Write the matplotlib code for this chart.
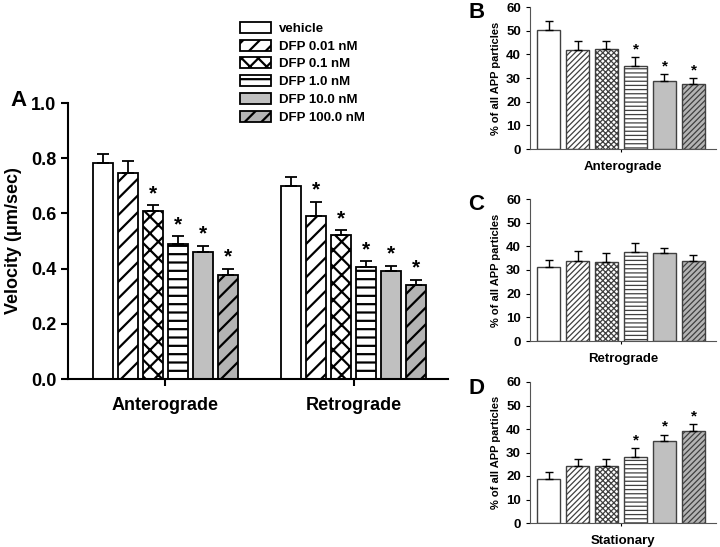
import matplotlib
matplotlib.use('Agg')
import matplotlib.pyplot as plt
import numpy as np

plt.rcParams['font.family'] = ['Liberation Sans', 'DejaVu Sans']
plt.rcParams['font.weight'] = 'bold'

# Data
doses = ['vehicle', 'DFP 0.01 nM', 'DFP 0.1 nM', 'DFP 1.0 nM', 'DFP 10.0 nM', 'DFP 100.0 nM']
groups_a = ['Anterograde', 'Retrograde']
vel_mean = [[0.784, 0.745, 0.610, 0.488, 0.461, 0.378],
            [0.699, 0.590, 0.520, 0.406, 0.393, 0.341]]
vel_err = [[0.030, 0.045, 0.020, 0.030, 0.022, 0.022],
           [0.034, 0.052, 0.020, 0.021, 0.018, 0.019]]
vel_sig = [[False, False, True, True, True, True],
           [False, True, True, True, True, True]]

antero_pct = [50.2, 42.0, 42.4, 35.0, 28.8, 27.4]
antero_err = [4.0, 3.6, 3.3, 4.0, 2.8, 2.4]
antero_sig = [False, False, False, True, True, True]

retro_pct = [31.1, 33.7, 33.4, 37.4, 37.0, 34.0]
retro_err = [3.3, 4.2, 3.6, 4.2, 2.1, 2.4]
retro_sig = [False] * 6

stat_pct = [18.9, 24.4, 24.1, 28.1, 34.8, 39.0]
stat_err = [2.8, 3.0, 3.0, 3.9, 2.8, 3.0]
stat_sig = [False, False, False, True, True, True]

face_cols = ['white', 'white', 'white', 'white', '#c0c0c0', '#b4b4b4']
hatch_a = [None, '//', 'xx', '--', None, '//']
hatch_small = [None, '//////', 'xxxxxx', '----', None, '//////']

fig = plt.figure(figsize=(7.2, 5.47), dpi=100)

# Panel A
plt.rcParams['hatch.linewidth'] = 1.6
axA = fig.add_axes([68/720, 1 - 379/547, 380/720, 276/547])
pitch, width = 0.1326, 0.106
centers = np.arange(len(groups_a))
handles = []
for i, lab in enumerate(doses):
    xs = centers + (i - 2.5) * pitch
    means = [vel_mean[g][i] for g in range(2)]
    errs = [vel_err[g][i] for g in range(2)]
    b = axA.bar(xs, means, width, color=face_cols[i], edgecolor='black',
                linewidth=1.3, hatch=hatch_a[i], label=lab, zorder=2)
    handles.append(b)
    axA.errorbar(xs, means, yerr=[[0, 0], errs], fmt='none', ecolor='black',
                 elinewidth=1.3, capsize=4, capthick=1.3, zorder=3)
    for g in range(2):
        if vel_sig[g][i]:
            axA.text(xs[g], means[g] + errs[g] + 0.007, '*', ha='center',
                     va='bottom', fontsize=15, fontweight='bold')
axA.set_xlim(-0.517, 1.499)
axA.set_ylim(0, 1.0)
axA.set_yticks(np.arange(0, 1.01, 0.2))
axA.set_yticklabels([f'{v:.1f}' for v in np.arange(0, 1.01, 0.2)], fontsize=13)
axA.set_xticks(centers)
axA.set_xticklabels(groups_a, fontsize=13)
axA.set_ylabel('Velocity (μm/sec)', fontsize=13, fontweight='bold', labelpad=6)
for s in ['top', 'right']:
    axA.spines[s].set_visible(False)
for s in ['left', 'bottom']:
    axA.spines[s].set_linewidth(1.5)
axA.tick_params(axis='both', width=1.5, length=5)
axA.tick_params(axis='x', pad=8)

fig.legend(handles=handles, labels=doses, loc='upper left',
           bbox_to_anchor=(228/720, 1 - 10/547), frameon=False,
           prop={'size': 9.5, 'weight': 'bold'}, handlelength=2.35,
           handleheight=0.9, labelspacing=0.36, handletextpad=0.6)

fig.text(10/720, 1 - 100/547, 'A', fontsize=16, fontweight='bold', va='center')

# Panels B, C, D
plt.rcParams['hatch.linewidth'] = 0.9
small = [
    ('B', antero_pct, antero_err, antero_sig, 'Anterograde', [530/720, 1 - 149/547, 186/720, 142/547]),
    ('C', retro_pct, retro_err, retro_sig, 'Retrograde', [530/720, 1 - 341/547, 186/720, 142/547]),
    ('D', stat_pct, stat_err, stat_sig, 'Stationary', [530/720, 1 - 523/547, 186/720, 141/547]),
]
x6 = np.arange(len(doses))
for letter, vals, errs, sig, xlab, rect in small:
    ax = fig.add_axes(rect)
    for i in range(len(doses)):
        ax.bar(x6[i], vals[i], 0.79, color=face_cols[i], edgecolor='#404040',
               linewidth=1.0, hatch=hatch_small[i], zorder=2)
    ax.errorbar(x6, vals, yerr=[[0] * 6, errs], fmt='none', ecolor='black',
                elinewidth=1.0, capsize=3, capthick=1.0, zorder=3)
    for i in range(len(doses)):
        if sig[i]:
            ax.text(x6[i], vals[i] + errs[i] + 0.3, '*', ha='center', va='bottom',
                    fontsize=11, fontweight='bold')
    ax.set_xlim(-0.638, 5.776)
    ax.set_ylim(0, 60)
    ax.set_yticks(range(0, 61, 10))
    ax.tick_params(axis='y', labelsize=9.5, length=3)
    ax.set_xticks([2.5])
    ax.set_xticklabels([''])
    ax.tick_params(axis='x', length=2)
    ax.set_xlabel(xlab, fontsize=9.5, fontweight='bold', labelpad=3)
    ax.set_ylabel('% of all APP particles', fontsize=8, fontweight='bold', labelpad=4)
    for s in ['top', 'right']:
        ax.spines[s].set_visible(False)
    ax.spines['left'].set_color('#555555')
    ax.spines['bottom'].set_color('#555555')
    top_px = (1 - rect[1] - rect[3]) * 547
    fig.text(468/720, 1 - (top_px + 6)/547, letter, fontsize=16, fontweight='bold', va='center')

fig.savefig('out.png', dpi=100)
